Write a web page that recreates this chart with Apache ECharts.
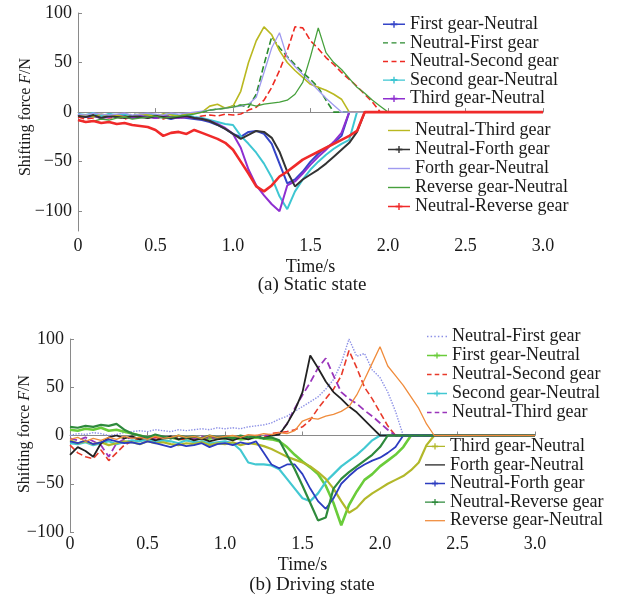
<!DOCTYPE html>
<html>
<head>
<meta charset="utf-8">
<script src="https://cdn.jsdelivr.net/npm/echarts@6.0.0/dist/echarts.min.js"></script>
<style>
  html, body { margin: 0; padding: 0; background: #fff; }
  #main { width: 619px; height: 598px; }
</style>
</head>
<body>
<div id="main"></div>
<script>
/* time base, s (shared by every curve) */
const timeS = [0,0.05,0.1,0.15,0.2,0.25,0.3,0.35,0.4,0.45,0.5,0.55,0.6,0.65,0.7,0.75,0.8,0.85,0.9,0.95,
  1.0,1.05,1.1,1.15,1.2,1.25,1.3,1.35,1.4,1.45,1.5,1.55,1.6,1.65,1.7,1.75,1.8,1.85,1.9,1.95,
  2.0,2.05,2.1,2.15,2.2,2.25,2.3,2.35,2.4,2.45,2.5,2.55,2.6,2.65,2.7,2.75,2.8,2.85,2.9,2.95,3.0];

const yTicks = [-100, -50, 0, 50, 100];

/* (a) static state, shifting force F/N */
const aNames = ['First gear-Neutral','Neutral-First gear','Neutral-Second gear','Second gear-Neutral','Third gear-Neutral',
  'Neutral-Third gear','Neutral-Forth gear','Forth gear-Neutral','Reverse gear-Neutral','Neutral-Reverse gear'];
const aFirstToN = [-3,-5,-4,-6,-3,-5,-4,-6,-5,-4,-6,-5,-7,-5,-6,-7,-8,-10,-13,-17,
  -22,-25,-20,-19,-22,-32,-52,-72,-68,-60,-50,-42,-36,-31,-24,0,0,0,0,0,
  0,0,0,0,0,0,0,0,0,0,0,0,0,0,0,0,0,0,0,0,0];
const aNToFirst = [-2,-4,-3,-5,-2,-3,-4,-2,-3,-4,-3,-2,-4,-3,-2,-1,0,2,3,4,
  6,7,5,18,48,76,65,56,48,40,33,25,12,0,0,0,0,0,0,0,
  0,0,0,0,0,0,0,0,0,0,0,0,0,0,0,0,0,0,0,0,0];
const aNToSecond = [-5,-7,-6,-4,-6,-5,-7,-5,-4,-6,-5,-7,-4,-6,-5,-6,-4,-3,-4,-2,
  -3,-2,2,5,12,25,42,62,86,85,72,64,55,48,40,33,26,18,10,0,
  0,0,0,0,0,0,0,0,0,0,0,0,0,0,0,0,0,0,0,0,0];
const aSecondToN = [-2,-3,-1,-4,-2,-3,-2,-4,-3,-2,-4,-3,-2,-4,-3,-5,-6,-8,-10,-12,
  -13,-24,-32,-41,-52,-66,-85,-98,-80,-68,-58,-50,-43,-37,-32,-28,0,0,0,0,
  0,0,0,0,0,0,0,0,0,0,0,0,0,0,0,0,0,0,0,0,0];
const aThirdToN = [-3,-5,-4,-6,-5,-3,-5,-6,-4,-5,-6,-4,-5,-6,-5,-6,-7,-9,-12,-16,
  -22,-36,-58,-74,-84,-93,-100,-74,-70,-62,-53,-45,-38,-30,-21,0,0,0,0,0,
  0,0,0,0,0,0,0,0,0,0,0,0,0,0,0,0,0,0,0,0,0];
const aNToThird = [-4,-3,-5,-2,-4,-3,-5,-4,-2,-3,-4,-2,-3,-4,-2,-1,0,6,8,4,
  6,21,50,72,86,78,62,50,42,35,28,25,22,18,13,0,0,0,0,0,
  0,0,0,0,0,0,0,0,0,0,0,0,0,0,0,0,0,0,0,0,0];
const aNToForth = [-4,-5,-3,-6,-4,-5,-6,-4,-5,-6,-4,-5,-6,-5,-4,-6,-7,-9,-13,-17,
  -22,-27,-23,-19,-20,-26,-40,-60,-75,-68,-63,-58,-52,-45,-38,-31,-20,0,0,0,
  0,0,0,0,0,0,0,0,0,0,0,0,0,0,0,0,0,0,0,0,0];
const aForthToN = [-2,-3,-1,-2,-3,-2,-1,-3,-2,-1,-2,-3,-1,-2,-1,0,1,2,3,4,
  5,6,8,15,40,65,80,55,46,38,30,22,14,7,0,0,0,0,0,0,
  0,0,0,0,0,0,0,0,0,0,0,0,0,0,0,0,0,0,0,0,0];
const aReverseToN = [-8,-10,-9,-7,-8,-6,-5,-7,-6,-5,-4,-6,-5,-4,-3,-2,0,2,3,4,
  5,7,8,6,8,9,10,12,18,30,56,85,60,50,43,34,25,19,12,6,
  0,0,0,0,0,0,0,0,0,0,0,0,0,0,0,0,0,0,0,0,0];
const aNToReverse = [-8,-10,-9,-11,-10,-12,-11,-13,-14,-15,-18,-24,-21,-20,-22,-18,-21,-24,-27,-31,
  -38,-50,-62,-75,-80,-74,-65,-60,-54,-48,-44,-40,-36,-32,-28,-24,-19,0,0,0,
  0,0,0,0,0,0,0,0,0,0,0,0,0,0,0,0,0,0,0,0,0];

/* (b) driving state, shifting force F/N */
const bNames = ['Neutral-First gear','First gear-Neutral','Neutral-Second gear','Second gear-Neutral','Neutral-Third gear',
  'Third gear-Neutral','Forth gear-Neutral','Neutral-Forth gear','Neutral-Reverse gear','Reverse gear-Neutral'];
const bNToFirst = [0,2,1,3,2,0,1,3,4,5,4,6,5,4,6,5,6,7,6,8,
  7,8,7,9,10,11,13,17,20,25,30,35,40,48,58,75,100,82,85,68,
  60,45,25,0,0,0,0,0,0,0,0,0,0,0,0,0,0,0,0,0,0];
const bFirstToN = [6,5,7,6,8,5,6,4,2,0,-2,-1,-3,-2,-4,-3,-2,-4,-3,-2,
  -3,-2,-4,-3,-2,-3,-4,-6,-12,-20,-27,-33,-40,-52,-70,-93,-72,-58,-46,-40,
  -32,-26,-20,-12,0,0,0,0,0,0,0,0,0,0,0,0,0,0,0,0,0];
const bNToSecond = [-10,-18,-22,-24,-15,-26,-18,-10,-6,-3,-5,-2,-4,-1,-3,-5,-2,-4,-1,-3,
  -2,-4,-1,-3,0,-2,2,3,4,6,9,16,28,38,48,62,88,70,50,38,
  24,10,0,0,0,0,0,0,0,0,0,0,0,0,0,0,0,0,0,0,0];
const bSecondToN = [-8,-9,-7,-10,-8,-6,-9,-7,-5,-6,-4,-7,-5,-6,-8,-5,-7,-6,-8,-7,
  -6,-8,-15,-28,-30,-30,-31,-35,-45,-55,-65,-68,-60,-48,-40,-32,-26,-20,-13,-5,
  0,0,0,0,0,0,0,0,0,0,0,0,0,0,0,0,0,0,0,0,0];
const bNToThird = [-3,-5,-2,-6,-10,-22,-8,-4,-2,-3,-1,-4,-2,-3,-1,-2,-4,-1,-3,-2,
  -1,-3,0,-2,-1,0,1,2,12,28,42,55,70,80,62,45,38,33,26,20,
  13,6,0,0,0,0,0,0,0,0,0,0,0,0,0,0,0,0,0,0,0];
const bThirdToN = [-5,-8,-6,-9,-7,-10,-8,-6,-7,-9,-6,-8,-7,-9,-10,-8,-9,-7,-10,-8,
  -9,-7,-10,-8,-9,-11,-14,-18,-22,-25,-28,-32,-38,-45,-55,-68,-80,-75,-66,-60,
  -55,-50,-46,-42,-36,-28,-10,0,0,0,0,0,0,0,0,0,0,0,0,0,0];
const bForthToN = [-20,-12,-16,-22,-8,-2,0,-3,-1,-4,-2,-5,-3,-1,-4,-2,-5,-3,-6,-4,
  -3,-5,-2,-4,-1,-3,0,1,12,26,45,83,70,56,45,38,30,24,16,8,
  0,0,0,0,0,0,0,0,0,0,0,0,0,0,0,0,0,0,0,0,0];
const bNToForth = [-6,-8,-5,-9,-7,-4,-6,-8,-7,-9,-6,-8,-10,-12,-9,-11,-10,-8,-12,-9,
  -8,-10,-7,-9,-6,-18,-30,-34,-30,-30,-40,-55,-68,-76,-65,-50,-42,-35,-30,-26,
  -23,-18,-12,0,0,0,0,0,0,0,0,0,0,0,0,0,0,0,0,0,0];
const bNToReverse = [9,8,10,9,11,10,12,6,2,0,-2,1,-1,-3,0,-2,-1,-3,0,-2,
  -1,-3,0,-2,-1,-3,-2,-5,-20,-35,-52,-70,-88,-85,-55,-45,-38,-32,-26,-20,
  -12,0,0,0,0,0,0,0,0,0,0,0,0,0,0,0,0,0,0,0,0];
const bReverseToN = [-4,-2,-6,-3,-5,-2,-4,-1,-3,-2,-4,-1,-3,-2,0,-2,-1,-3,0,-2,
  -1,0,-2,1,0,2,1,3,2,5,15,18,17,20,22,25,30,42,58,75,
  92,72,62,52,40,28,12,0,0,0,0,0,0,0,0,0,0,0,0,0,0];

const aValues = [aFirstToN, aNToFirst, aNToSecond, aSecondToN, aThirdToN,
  aNToThird, aNToForth, aForthToN, aReverseToN, aNToReverse];
const bValues = [bNToFirst, bFirstToN, bNToSecond, bSecondToN, bNToThird,
  bThirdToN, bForthToN, bNToForth, bNToReverse, bReverseToN];

/* line looks: [colour, width, type, has markers] */
const aLook = [
  ['#3545c8', 2,   'solid',  true],
  ['#2a8a2e', 1.6, 'dashed', false],
  ['#ee2a22', 1.6, 'dashed', false],
  ['#3ec6d2', 2,   'solid',  true],
  ['#8e2fd0', 2,   'solid',  true],
  ['#b9b820', 1.6, 'solid',  false],
  ['#333333', 2,   'solid',  true],
  ['#a09af0', 1.3, 'solid',  false],
  ['#46a03c', 1.3, 'solid',  false],
  ['#f02a2a', 2.6, 'solid',  true]
];
const bLook = [
  ['#8c90e6', 1.4, 'dotted', false],
  ['#6acc3a', 2.6, 'solid',  true],
  ['#e83a2a', 1.6, 'dashed', false],
  ['#42c8d2', 2.2, 'solid',  true],
  ['#9a35bb', 1.8, 'dashed', false],
  ['#b2b82a', 2.2, 'solid',  true],
  ['#222222', 1.8, 'solid',  false],
  ['#2c3cc0', 1.8, 'solid',  true],
  ['#2e8a3c', 2.2, 'solid',  true],
  ['#f08c3c', 1.3, 'solid',  false]
];

/* legend glyphs, drawn as filled paths in a 22 x 8 box */
const ICON = {
  solid:  'path://M0,3.3h22v1.4h-22z',
  mark:   'path://M0,3.3h22v1.4h-22zM10.3,0.6h1.4v6.8h-1.4zM7.6,3h6.8v2h-6.8z',
  dashed: 'path://M0,3.3h5v1.4h-5zM8.5,3.3h5v1.4h-5zM17,3.3h5v1.4h-5z',
  dotted: 'path://M0,3.3h1.6v1.4h-1.6zM4,3.3h1.6v1.4h-1.6zM8,3.3h1.6v1.4h-1.6zM12,3.3h1.6v1.4h-1.6zM16,3.3h1.6v1.4h-1.6zM20.4,3.3h1.6v1.4h-1.6z'
};
const iconOf = look => (look[3] ? ICON.mark : ICON[look[2]]);

const FONT = '"Liberation Serif", "DejaVu Serif", serif';
const INK = '#1a1a1a';
const minus = v => (v < 0 ? '\u2212' + (-v) : String(v));

const makeSeries = (tag, names, values, looks, gi) => names.map((n, k) => ({
  name: tag + n,
  type: 'line',
  xAxisIndex: gi,
  yAxisIndex: gi,
  data: timeS.map((t, i) => [t, values[k][i]]),
  symbol: 'none',
  lineStyle: { color: looks[k][0], width: looks[k][1], type: looks[k][2] },
  itemStyle: { color: looks[k][0] },
  emphasis: { disabled: true },
  z: 2
}));

const xAxisOf = (gi, margin, gap) => ({
  type: 'value', gridIndex: gi, min: 0, max: 3, interval: 0.5,
  name: 'Time/s', nameLocation: 'middle', nameGap: gap,
  nameTextStyle: { fontFamily: FONT, fontSize: 18, color: INK },
  axisLine: { lineStyle: { color: '#8a8a8a', width: 1 } },
  axisTick: { inside: true, length: 4, lineStyle: { color: '#8a8a8a' } },
  axisLabel: { margin: margin, fontFamily: FONT, fontSize: 18, color: INK,
    formatter: v => (v === 0 ? '0' : v.toFixed(1)) },
  splitLine: { show: false }
});

const yAxisOf = (gi, min) => ({
  type: 'value', gridIndex: gi, min: min, max: 100,
  axisLine: { show: true, lineStyle: { color: '#8a8a8a', width: 1 } },
  axisTick: { inside: true, length: 4, customValues: yTicks, lineStyle: { color: '#8a8a8a' } },
  axisLabel: { margin: 6, fontFamily: FONT, fontSize: 18, color: INK,
    customValues: yTicks, formatter: minus },
  splitLine: { show: false }
});

const legendOf = (names, looks, tag, left, top, iw, lh) => ({
  data: names.map((n, k) => ({ name: tag + n, icon: iconOf(looks[k]) })),
  formatter: n => n.slice(tag.length),
  orient: 'vertical', left: left, top: top, padding: 0,
  itemWidth: iw, itemHeight: 8, itemGap: 0,
  itemStyle: { borderWidth: 0 },
  selectedMode: false,
  textStyle: { fontFamily: FONT, fontSize: 18, color: INK, lineHeight: lh }
});

/* rotated y-axis title, rich text so that F is italic */
const yTitle = (x, y) => ({
  type: 'text', x: x, y: y, rotation: Math.PI / 2,
  style: {
    text: '{r|Shifting force }{i|F}{r|/N}',
    align: 'center', verticalAlign: 'middle',
    rich: {
      r: { fontFamily: FONT, fontSize: 16, fill: INK },
      i: { fontFamily: FONT, fontSize: 16, fill: INK, fontStyle: 'italic' }
    }
  }
});

const caption = (x, y, text) => ({
  type: 'text', x: x, y: y,
  style: { text: text, font: '19px ' + FONT, fill: INK, align: 'center', verticalAlign: 'middle' }
});

const chart = echarts.init(document.getElementById('main'), null, { renderer: 'canvas' });

chart.setOption({
  animation: false,
  backgroundColor: '#ffffff',
  grid: [
    { left: 78, top: 13, width: 465, height: 218 },
    { left: 70, top: 339, width: 465, height: 193 }
  ],
  xAxis: [xAxisOf(0, 6, 27), xAxisOf(1, 3, 24)],
  yAxis: [yAxisOf(0, -120), yAxisOf(1, -100)],
  legend: [
    legendOf(aNames.slice(0, 5), aLook.slice(0, 5), 'a:', 383, 15, 22, 18.6),
    legendOf(aNames.slice(5), aLook.slice(5), 'a:', 388, 121, 22, 19),
    legendOf(bNames.slice(0, 5), bLook.slice(0, 5), 'b:', 427, 327, 20, 19),
    legendOf(bNames.slice(5), bLook.slice(5), 'b:', 425, 437, 20, 18.6)
  ],
  graphic: [
    yTitle(26, 117),
    yTitle(25, 434),
    caption(312, 285, '(a) Static state'),
    caption(312, 585, '(b) Driving state')
  ],
  series: [
    ...makeSeries('a:', aNames, aValues, aLook, 0),
    ...makeSeries('b:', bNames, bValues, bLook, 1)
  ]
});
</script>
</body>
</html>
